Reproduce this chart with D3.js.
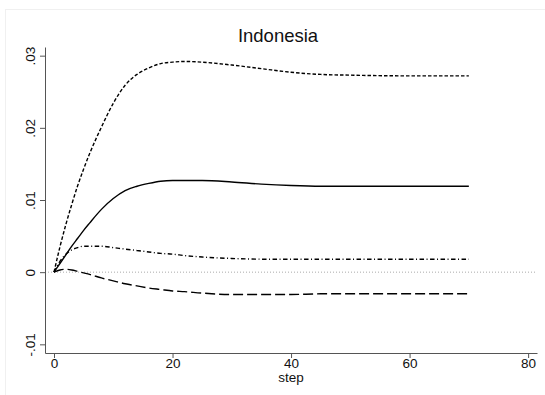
<!DOCTYPE html>
<html>
<head>
<meta charset="utf-8">
<script src="https://cdn.jsdelivr.net/npm/d3@7"></script>
<style>
  body { margin: 0; background: #fff; }
  svg { display: block; font-family: 'Liberation Sans', Arial, sans-serif; }
</style>
</head>
<body>
<script>
// impulse responses (step -> value)
const steps = [0, 1, 2, 3, 4, 5, 6, 8, 10, 12, 14, 16, 18, 20, 22, 25, 30, 35, 40, 45, 50, 60, 70]
const shortDash = [0, 0.0035, 0.0066, 0.0094, 0.0120, 0.0143, 0.0164, 0.0201, 0.0234, 0.0259, 0.0274, 0.0283, 0.0289, 0.0291, 0.0292, 0.0291, 0.0287, 0.0282, 0.0277, 0.0274, 0.0273, 0.0272, 0.0272]
const solid = [0, 0.0012, 0.0024, 0.0036, 0.0047, 0.0058, 0.0068, 0.0087, 0.0102, 0.0113, 0.0119, 0.0123, 0.0126, 0.0127, 0.0127, 0.0127, 0.0125, 0.0122, 0.0120, 0.0119, 0.0119, 0.0119, 0.0119]
const dashDot = [0, 0.0015, 0.0025, 0.0031, 0.0034, 0.0036, 0.0036, 0.0036, 0.0034, 0.0032, 0.0030, 0.0028, 0.0026, 0.0025, 0.0023, 0.0021, 0.0019, 0.0018, 0.0018, 0.0018, 0.0018, 0.0018, 0.0018]
const longDash = [0, 0.0003, 0.0004, 0.0003, 0.0001, -0.0001, -0.0003, -0.0008, -0.0012, -0.0016, -0.0019, -0.0022, -0.0024, -0.0026, -0.0027, -0.0029, -0.0031, -0.0031, -0.0031, -0.0030, -0.0030, -0.0030, -0.0030]

const xTicks = [0, 20, 40, 60, 80]
const yTicks = [-0.01, 0, 0.01, 0.02, 0.03]
const yTickLabels = ['-.01', '0', '.01', '.02', '.03']

const series = [
  { values: shortDash, dash: '3.5,2' },
  { values: solid, dash: null },
  { values: dashDot, dash: '4.5,2.5,1,2.5' },
  { values: longDash, dash: '10,4' },
]

const width = 545, height = 395
const svg = d3.select('body').append('svg')
  .attr('width', width).attr('height', height)

// faint graph region border
svg.append('rect')
  .attr('x', 5.5).attr('y', 9.5)
  .attr('width', width).attr('height', height)
  .attr('fill', 'none').attr('stroke', '#f0f0f0')

const x = d3.scaleLinear().domain([-1.52, 81.5]).range([45, 537])
const y = d3.scaleLinear().domain([-0.0112, 0.0312]).range([353, 47])

svg.append('text')
  .attr('x', 278).attr('y', 42)
  .attr('text-anchor', 'middle')
  .attr('font-size', '18.5px').attr('fill', '#111')
  .text('Indonesia')

// zero reference line
svg.append('line')
  .attr('x1', x(-1.52)).attr('x2', x(81.5))
  .attr('y1', y(0)).attr('y2', y(0))
  .attr('stroke', '#aaa').attr('stroke-width', 1)
  .attr('stroke-dasharray', '1,2')

const line = d3.line()
  .x((d, i) => x(steps[i]))
  .y(d => y(d))
  .curve(d3.curveMonotoneX)

series.forEach(s => {
  svg.append('path')
    .attr('d', line(s.values))
    .attr('fill', 'none')
    .attr('stroke', '#000')
    .attr('stroke-width', 1.4)
    .attr('stroke-dasharray', s.dash)
})

// axes
const xAxis = svg.append('g')
  .attr('transform', `translate(0, 353)`)
  .call(d3.axisBottom(x).tickValues(xTicks).tickSize(5).tickPadding(0).tickSizeOuter(0))
xAxis.select('.domain').attr('stroke', '#555')
xAxis.selectAll('.tick line').attr('stroke', '#555')
xAxis.selectAll('.tick text').attr('font-size', '13.5px').attr('fill', '#111')
  .attr('font-family', "'Liberation Sans', Arial, sans-serif")

svg.append('text')
  .attr('x', x(40)).attr('y', 382)
  .attr('text-anchor', 'middle')
  .attr('font-size', '13.5px').attr('fill', '#111')
  .text('step')

const yAxis = svg.append('g')
  .attr('transform', `translate(45, 0)`)
  .call(d3.axisLeft(y).tickValues(yTicks).tickFormat((d, i) => yTickLabels[i]).tickSize(5).tickSizeOuter(0))
yAxis.select('.domain').attr('stroke', '#555')
yAxis.selectAll('.tick line').attr('stroke', '#555')
// rotated tick labels, centred on the tick
yAxis.selectAll('.tick text')
  .attr('font-size', '13.5px').attr('fill', '#111')
  .attr('font-family', "'Liberation Sans', Arial, sans-serif")
  .attr('text-anchor', 'middle')
  .attr('x', 0).attr('y', 0).attr('dy', '0.35em')
  .attr('transform', 'translate(-15,0) rotate(-90)')
</script>
</body>
</html>
